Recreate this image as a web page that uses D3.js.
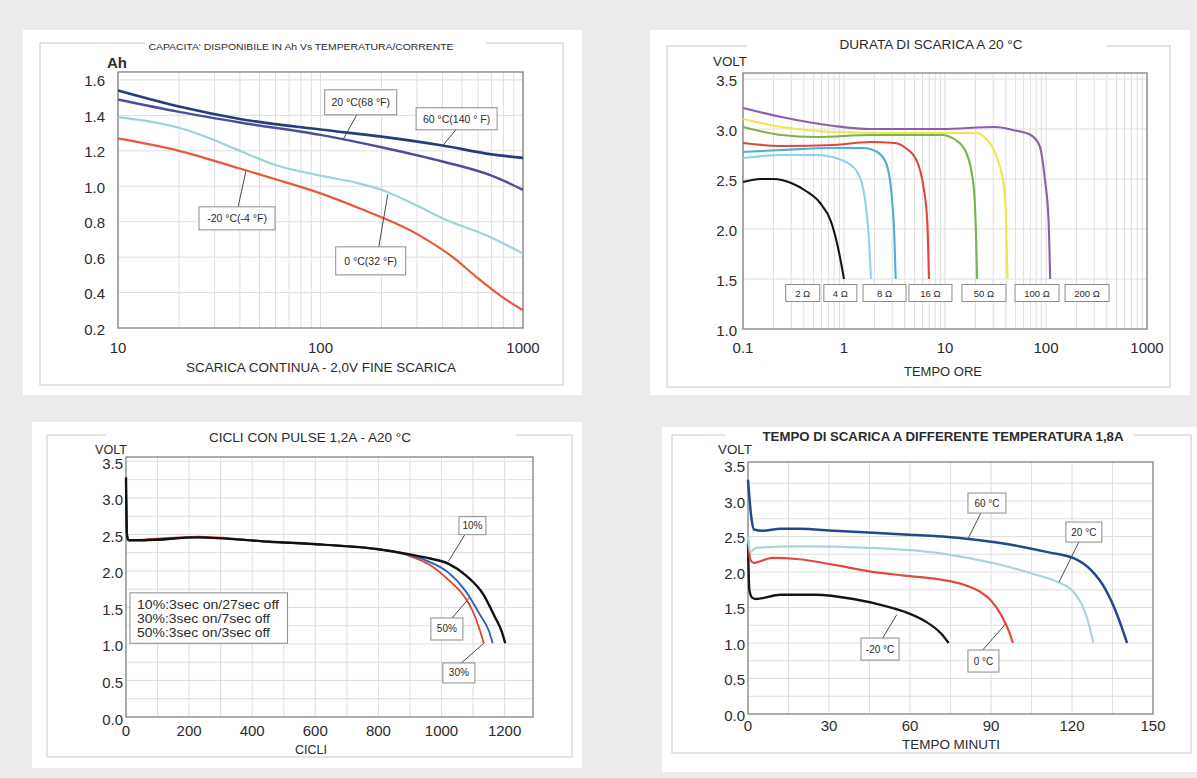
<!DOCTYPE html>
<html><head><meta charset="utf-8">
<script src="https://cdn.jsdelivr.net/npm/d3@7"></script>
<style>
body{margin:0;background:#ebebeb;}
svg{display:block;}
text{font-family:"Liberation Sans",Arial,sans-serif;fill:#2b2b2b;}
</style>
</head><body>
<svg id="c" width="1197" height="778"></svg>
<script>
// ---------------- DATA ----------------
// Panel 1 : capacity (Ah) vs discharge current, log x
const capTicksX = [10, 100, 1000];
const capTicksY = [0.2, 0.4, 0.6, 0.8, 1.0, 1.2, 1.4, 1.6];
const capX60 = [10, 20, 40, 100, 200, 400, 700, 1000];
const capY60 = [1.54, 1.45, 1.38, 1.32, 1.28, 1.23, 1.18, 1.16];
const capX20 = [10, 20, 40, 100, 200, 400, 700, 1000];
const capY20 = [1.49, 1.42, 1.36, 1.29, 1.22, 1.14, 1.06, 0.98];
const capX0 = [10, 20, 30, 40, 60, 100, 150, 200, 300, 400, 700, 1000];
const capY0 = [1.39, 1.33, 1.26, 1.20, 1.12, 1.06, 1.02, 0.98, 0.89, 0.82, 0.71, 0.62];
const capXm20 = [10, 20, 40, 60, 100, 160, 300, 450, 600, 700, 850, 1000];
const capYm20 = [1.27, 1.20, 1.10, 1.04, 0.96, 0.87, 0.73, 0.60, 0.48, 0.42, 0.35, 0.30];
const capLabels = ["20 °C(68 °F)", "60 °C(140 ° F)", "-20 °C(-4 °F)", "0 °C(32 °F)"];

// Panel 2 : discharge duration at 20 °C, log x (hours)
const durTicksX = [0.1, 1, 10, 100, 1000];
const durTicksY = [1.0, 1.5, 2.0, 2.5, 3.0, 3.5];
const ohmLabels = ["2 Ω", "4 Ω", "8 Ω", "16 Ω", "50 Ω", "100 Ω", "200 Ω"];
const ohm2X = [0.1, 0.15, 0.2, 0.3, 0.42, 0.58, 0.74, 0.87, 1.0];
const ohm2Y = [2.47, 2.50, 2.50, 2.46, 2.38, 2.26, 2.08, 1.82, 1.50];
const ohm4X = [0.1, 0.24, 0.53, 0.94, 1.31, 1.55, 1.68, 1.78, 1.85];
const ohm4Y = [2.71, 2.74, 2.74, 2.69, 2.59, 2.40, 2.15, 1.85, 1.50];
const ohm8X = [0.1, 0.24, 0.8, 1.54, 2.13, 2.61, 2.95, 3.15, 3.25];
const ohm8Y = [2.77, 2.79, 2.81, 2.81, 2.77, 2.66, 2.36, 1.93, 1.50];
const ohm16X = [0.1, 0.24, 0.8, 1.81, 3.2, 4.08, 5.2, 6.1, 6.66, 6.94];
const ohm16Y = [2.86, 2.83, 2.84, 2.87, 2.86, 2.81, 2.69, 2.43, 2.09, 1.50];
const ohm50X = [0.1, 0.24, 0.53, 1.81, 9.2, 12.8, 16.3, 19.2, 20.2, 20.8];
const ohm50Y = [3.02, 2.94, 2.92, 2.94, 2.94, 2.89, 2.76, 2.43, 2.00, 1.50];
const ohm100X = [0.1, 0.24, 0.8, 3.2, 20.8, 24.5, 31.3, 38.3, 40.5, 41.6];
const ohm100Y = [3.10, 3.02, 2.97, 2.96, 2.96, 2.92, 2.76, 2.43, 2.00, 1.50];
const ohm200X = [0.1, 0.24, 0.8, 1.81, 9.2, 31.3, 47, 70.6, 86.5, 97.7, 106, 110];
const ohm200Y = [3.21, 3.12, 3.03, 3.00, 3.00, 3.02, 2.99, 2.94, 2.83, 2.49, 2.09, 1.50];
const ohmLabelX = [0.39, 0.92, 2.52, 7.18, 24.3, 81.5, 255];
const ohmLabelY = 1.36;

// Panel 3 : pulse cycles at 20 °C
const cycTicksX = [0, 200, 400, 600, 800, 1000, 1200];
const cycTicksY = [0.0, 0.5, 1.0, 1.5, 2.0, 2.5, 3.0, 3.5];
const pulse10X = [0, 3, 8, 57, 227, 454, 624, 794, 908, 964, 1021, 1077, 1134, 1168, 1191, 1202];
const pulse10Y = [3.28, 2.50, 2.42, 2.42, 2.46, 2.40, 2.36, 2.30, 2.22, 2.17, 2.10, 1.94, 1.67, 1.38, 1.17, 1.01];
const pulse50X = [0, 3, 8, 57, 227, 454, 624, 794, 908, 964, 1021, 1077, 1122, 1151, 1162];
const pulse50Y = [3.28, 2.50, 2.42, 2.42, 2.46, 2.40, 2.36, 2.30, 2.21, 2.12, 1.98, 1.72, 1.40, 1.17, 1.01];
const pulse30X = [0, 3, 8, 57, 227, 454, 624, 794, 908, 964, 1021, 1077, 1106, 1122, 1134];
const pulse30Y = [3.28, 2.50, 2.42, 2.43, 2.47, 2.40, 2.36, 2.30, 2.19, 2.08, 1.88, 1.62, 1.38, 1.18, 1.01];
const pulseLabels = ["10%", "50%", "30%"];
const pulseLegend = ["10%:3sec on/27sec off", "30%:3sec on/7sec off", "50%:3sec on/3sec off"];

// Panel 4 : discharge time at different temperatures, 1.8 A
const minTicksX = [0, 30, 60, 90, 120, 150];
const minTicksY = [0.0, 0.5, 1.0, 1.5, 2.0, 2.5, 3.0, 3.5];
const t60X = [0, 1.3, 2.2, 5.5, 12, 19, 32, 58, 72, 85, 98, 111, 121, 127, 132.5, 136.5, 140.4];
const t60Y = [3.30, 2.75, 2.60, 2.58, 2.61, 2.61, 2.58, 2.53, 2.50, 2.45, 2.38, 2.28, 2.19, 2.03, 1.75, 1.42, 1.00];
const t20X = [0, 0.9, 2.9, 19, 45, 72, 91.5, 105, 114.6, 120.6, 124.6, 126.5, 127.9];
const t20Y = [2.50, 2.28, 2.34, 2.36, 2.34, 2.26, 2.12, 1.98, 1.86, 1.72, 1.46, 1.23, 1.00];
const t0X = [0, 0.9, 2.2, 9, 19, 32, 45, 58, 72, 80, 86, 90, 94, 96.8, 98.1];
const t0Y = [2.45, 2.17, 2.13, 2.20, 2.18, 2.10, 2.01, 1.95, 1.89, 1.82, 1.72, 1.60, 1.38, 1.15, 1.00];
const tm20X = [0, 0.5, 1.5, 3, 12, 25, 39, 52, 58, 65, 71.6, 74.3];
const tm20Y = [2.40, 1.75, 1.64, 1.62, 1.68, 1.68, 1.62, 1.51, 1.44, 1.32, 1.13, 1.00];
const tempLabels = ["-20 °C", "0 °C", "60 °C", "20 °C"];

// ---------------- DRAWING ----------------
const svg = d3.select("#c");
const zip = (xs, ys) => xs.map((x, i) => [x, ys[i]]);
const logMinor = (lo, hi) => { const a = []; for (let d = lo; d < hi; d *= 10) for (let k = 1; k <= 9; k++) a.push(d * k); a.push(hi); return a; };
const range = (a, b, s) => { const r = []; for (let v = a; v <= b + 1e-9; v += s) r.push(+v.toFixed(6)); return r; };

function panel(p) {
  const g = svg.append("g");
  const [cx, cy, cw, ch] = p.card;
  g.append("rect").attr("x", cx).attr("y", cy).attr("width", cw).attr("height", ch).attr("fill", "#fff");
  const [fx0, fy0, fx1, fy1] = p.frame;
  g.append("rect").attr("x", fx0).attr("y", fy0).attr("width", fx1 - fx0).attr("height", fy1 - fy0)
    .attr("fill", "none").attr("stroke", "#d3d3d3").attr("stroke-width", 1.2);
  g.append("rect").attr("x", p.gap[0]).attr("y", fy0 - 2).attr("width", p.gap[1] - p.gap[0]).attr("height", 4).attr("fill", "#fff");

  const [l, t, r, b] = p.plot;
  const x = (p.log ? d3.scaleLog() : d3.scaleLinear()).domain(p.xDomain).range([l, r]);
  const y = d3.scaleLinear().domain(p.yDomain).range([b, t]);

  g.append("g").selectAll("line").data(p.gridX).join("line")
    .attr("x1", d => x(d)).attr("x2", d => x(d)).attr("y1", t).attr("y2", b)
    .attr("stroke", "#dedede").attr("stroke-width", 1);
  g.append("g").selectAll("line").data(p.gridY).join("line")
    .attr("x1", l).attr("x2", r).attr("y1", d => y(d)).attr("y2", d => y(d))
    .attr("stroke", "#dedede").attr("stroke-width", 1);
  g.append("rect").attr("x", l).attr("y", t).attr("width", r - l).attr("height", b - t)
    .attr("fill", "none").attr("stroke", "#8a8a8a").attr("stroke-width", 1.4);

  const line = d3.line().x(d => x(d[0])).y(d => y(d[1])).curve(d3.curveMonotoneX);
  p.series.forEach(s => {
    g.append("path").attr("d", line(s.data)).attr("fill", "none")
      .attr("stroke", s.color).attr("stroke-width", s.w || 2.2).attr("stroke-linejoin", "round");
  });

  // tick labels
  g.append("g").selectAll("text").data(p.ticksY).join("text")
    .attr("x", l - p.yLabOff).attr("y", d => y(d) + p.yLabDy).attr("text-anchor", "end")
    .attr("dominant-baseline", "central").attr("font-size", p.tickSize)
    .text(d => d.toFixed(1));
  g.append("g").selectAll("text").data(p.ticksX).join("text")
    .attr("x", d => x(d)).attr("y", b + p.xLabOff).attr("text-anchor", "middle")
    .attr("dominant-baseline", "central").attr("font-size", p.tickSize)
    .text(d => String(d));

  // titles
  const T = (txt, xx, yy, size, len, weight) => {
    const e = g.append("text").attr("x", xx).attr("y", yy).attr("text-anchor", "middle")
      .attr("dominant-baseline", "central").attr("font-size", size).text(txt);
    if (len) e.attr("textLength", len).attr("lengthAdjust", "spacingAndGlyphs");
    if (weight) e.attr("font-weight", weight);
    return e;
  };
  T(p.title[0], p.title[1], p.title[2], p.title[3], p.title[4], p.title[5]);
  T(p.xTitle[0], p.xTitle[1], p.xTitle[2], p.xTitle[3], p.xTitle[4]);
  T(p.yTitle[0], p.yTitle[1], p.yTitle[2], p.yTitle[3], p.yTitle[4], p.yTitle[5]);

  // annotations
  (p.notes || []).forEach(n => {
    if (n.lead) {
      g.append("line").attr("x1", x(n.lead[0])).attr("y1", y(n.lead[1]))
        .attr("x2", x(n.lead[2])).attr("y2", y(n.lead[3]))
        .attr("stroke", "#4a4a4a").attr("stroke-width", 1);
    }
    const bx = x(n.at[0]), by = y(n.at[1]);
    g.append("rect").attr("x", bx - n.w / 2).attr("y", by - n.h / 2).attr("width", n.w).attr("height", n.h)
      .attr("fill", "#fff").attr("stroke", "#8c8c8c").attr("stroke-width", 1);
    g.append("text").attr("x", bx).attr("y", by).attr("text-anchor", "middle")
      .attr("dominant-baseline", "central").attr("font-size", n.fs || 10).text(n.text);
  });
  return {g, x, y};
}

// Panel 1
panel({
  card: [23, 30, 559, 365], frame: [40, 43, 563, 385], gap: [145, 486],
  plot: [118, 72, 523, 328], log: true, xDomain: [10, 1000], yDomain: [0.2, 1.645],
  gridX: logMinor(10, 1000), gridY: range(0.4, 1.6, 0.2),
  ticksX: capTicksX, ticksY: capTicksY, tickSize: 15, yLabOff: 13, yLabDy: 1, xLabOff: 19,
  title: ["CAPACITA' DISPONIBILE IN Ah Vs TEMPERATURA/CORRENTE", 301, 47, 9, 305],
  xTitle: ["SCARICA CONTINUA - 2,0V FINE SCARICA", 321, 368, 12, 270],
  yTitle: ["Ah", 117, 62, 15, null, "bold"],
  series: [
    {data: zip(capXm20, capYm20), color: "#e8583a", w: 2.2},
    {data: zip(capX0, capY0), color: "#9dd3d8", w: 2.2},
    {data: zip(capX20, capY20), color: "#4f4c9c", w: 2.4},
    {data: zip(capX60, capY60), color: "#263d7c", w: 2.6}
  ],
  notes: [
    {text: capLabels[0], at: [158, 1.474], w: 72, h: 25, fs: 10.5, lead: [151, 1.403, 129, 1.262]},
    {text: capLabels[1], at: [470, 1.381], w: 81, h: 22, fs: 10.5, lead: [467, 1.319, 403, 1.232]},
    {text: capLabels[2], at: [38.7, 0.819], w: 76, h: 23, fs: 10.5, lead: [39.2, 0.884, 42.8, 1.085]},
    {text: capLabels[3], at: [177, 0.579], w: 70, h: 28, fs: 10.5, lead: [194, 0.658, 215, 0.955]}
  ]
});

// Panel 2
const ohmColors = ["#141414", "#8ed3ea", "#4fafd6", "#e0473b", "#78b548", "#f0e54c", "#8b5fae"];
const ohmData = [zip(ohm2X, ohm2Y), zip(ohm4X, ohm4Y), zip(ohm8X, ohm8Y), zip(ohm16X, ohm16Y),
                 zip(ohm50X, ohm50Y), zip(ohm100X, ohm100Y), zip(ohm200X, ohm200Y)];
const ohmBoxW = [34, 33, 43, 43, 44, 44, 44];
panel({
  card: [650, 30, 540, 365], frame: [667, 46, 1170, 387], gap: [747, 1107],
  plot: [743, 73, 1147, 329], log: true, xDomain: [0.1, 1000], yDomain: [1.0, 3.56],
  gridX: logMinor(0.1, 1000), gridY: range(1.5, 3.5, 0.5),
  ticksX: durTicksX, ticksY: durTicksY, tickSize: 15, yLabOff: 6, yLabDy: 1, xLabOff: 18,
  title: ["DURATA DI SCARICA A 20 °C", 931, 45, 12, 183],
  xTitle: ["TEMPO ORE", 943, 372, 12, 78],
  yTitle: ["VOLT", 730, 62, 12, 34],
  series: ohmData.map((d, i) => ({data: d, color: ohmColors[i], w: 2.1})),
  notes: ohmLabels.map((t, i) => ({text: t, at: [ohmLabelX[i], ohmLabelY], w: ohmBoxW[i], h: 17, fs: 9.5}))
});

// Panel 3
const p3 = panel({
  card: [32, 422, 550, 346], frame: [47, 435, 572, 757], gap: [106, 516],
  plot: [126, 457, 533, 717], log: false, xDomain: [0, 1290], yDomain: [0, 3.56],
  gridX: range(100, 1200, 100), gridY: range(0.25, 3.5, 0.25),
  ticksX: cycTicksX, ticksY: cycTicksY, tickSize: 15, yLabOff: 3, yLabDy: 2, xLabOff: 13,
  title: ["CICLI CON PULSE 1,2A - A20 °C", 310, 438, 12, 202],
  xTitle: ["CICLI", 311, 750, 12, 32],
  yTitle: ["VOLT", 111, 450, 12, 32],
  series: [
    {data: zip(pulse30X, pulse30Y), color: "#e0403a", w: 1.8},
    {data: zip(pulse50X, pulse50Y), color: "#2a5fb5", w: 1.8},
    {data: zip(pulse10X, pulse10Y), color: "#111111", w: 2.4}
  ],
  notes: [
    {text: pulseLabels[0], at: [1098, 2.62], w: 27, h: 18, lead: [1073, 2.49, 1022, 2.13]},
    {text: pulseLabels[1], at: [1017, 1.205], w: 32, h: 22, lead: [1033, 1.352, 1090, 1.64]},
    {text: pulseLabels[2], at: [1055, 0.603], w: 32, h: 20, lead: [1062, 0.736, 1134, 1.01]}
  ]
});
// legend box of panel 3
{
  const lx0 = p3.x(12.7), lx1 = p3.x(512), ly0 = p3.y(1.70), ly1 = p3.y(1.01);
  p3.g.append("rect").attr("x", lx0).attr("y", ly0).attr("width", lx1 - lx0).attr("height", ly1 - ly0)
    .attr("fill", "#fff").attr("stroke", "#8c8c8c").attr("stroke-width", 1);
  p3.g.append("g").selectAll("text").data(pulseLegend).join("text")
    .attr("x", lx0 + 7).attr("y", (d, i) => ly0 + 12 + i * 14).attr("dominant-baseline", "central")
    .attr("font-size", 12.5).attr("textLength", (d, i) => [142, 133, 133][i]).attr("lengthAdjust", "spacingAndGlyphs")
    .text(d => d);
}

// Panel 4
panel({
  card: [662, 427, 535, 345], frame: [672, 435, 1191, 753], gap: [725, 1134],
  plot: [748, 462, 1153, 714], log: false, xDomain: [0, 150], yDomain: [0, 3.55],
  gridX: range(15, 135, 15), gridY: range(0.25, 3.25, 0.25),
  ticksX: minTicksX, ticksY: minTicksY, tickSize: 15, yLabOff: 3, yLabDy: 1, xLabOff: 11,
  title: ["TEMPO DI SCARICA A DIFFERENTE TEMPERATURA 1,8A", 943, 437, 12.5, 361, "bold"],
  xTitle: ["TEMPO MINUTI", 951, 745, 12, 98],
  yTitle: ["VOLT", 735, 450, 12.5, 34],
  series: [
    {data: zip(tm20X, tm20Y), color: "#151515", w: 2.3},
    {data: zip(t0X, t0Y), color: "#e04a3c", w: 2.2},
    {data: zip(t20X, t20Y), color: "#a9d5d9", w: 2.2},
    {data: zip(t60X, t60Y), color: "#22498c", w: 2.5}
  ],
  notes: [
    {text: tempLabels[0], at: [48.9, 0.915], w: 38, h: 22, lead: [49.8, 1.066, 55.1, 1.40]},
    {text: tempLabels[1], at: [87.2, 0.746], w: 31, h: 22, lead: [86.9, 0.901, 95.4, 1.27]},
    {text: tempLabels[2], at: [88.5, 2.972], w: 38, h: 20, lead: [86.2, 2.827, 81.5, 2.47]},
    {text: tempLabels[3], at: [124.4, 2.563], w: 36, h: 20, lead: [122.6, 2.427, 115.2, 1.86]}
  ]
});
</script>
</body></html>
